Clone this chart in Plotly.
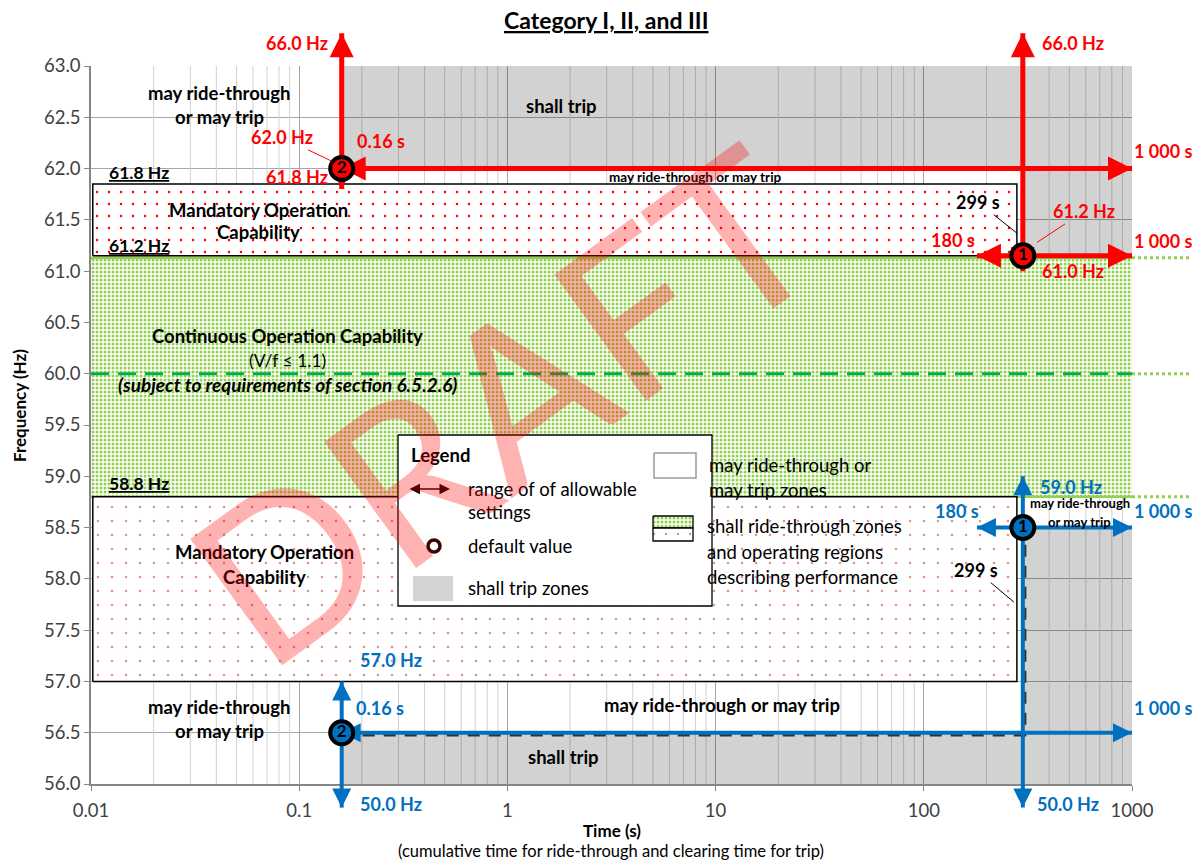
import numpy as np
import plotly.graph_objects as go

W, H = 1192, 861
L, R, T, B = 91, 1132, 66, 784   # plot area edges in px

RED = "#ff0000"
BLUE = "#0070c0"
FONT = "Lato"

# zones (time in s, frequency in Hz)
upper_trip_t = [0.16, 1000, 1000, 299, 299, 0.16]
upper_trip_f = [63.0, 63.0, 61.15, 61.15, 62.0, 62.0]
lower_trip_t = [0.16, 1000, 1000, 299, 299, 0.16]
lower_trip_f = [56.0, 56.0, 58.5, 58.5, 56.5, 56.5]
cont_op_t = [0.01, 1000, 1000, 0.01]
cont_op_f = [58.8, 58.8, 61.13, 61.13]
moc_t = [0.0102, 280, 280, 0.0102, 0.0102]
moc_upper_f = [61.15, 61.15, 61.85, 61.85, 61.15]
moc_lower_f = [57.0, 57.0, 58.8, 58.8, 57.0]
nominal_t = [0.01, 1000]
nominal_f = [60.0, 60.0]
default_curve_t = [0.16, 305, 305]
default_curve_f = [56.48, 56.48, 58.5]
green_ext_t = [1000, 1950]
green_ext_f = [61.13, 60.0, 58.8]

# ranges of allowable settings (both ends of each arrow)
red_arrow_t = [[0.16, 0.16], [0.16, 1000], [299, 299], [180, 1000]]
red_arrow_f = [[61.8, 63.32], [62.0, 62.0], [61.0, 63.32], [61.15, 61.15]]
blue_arrow_t = [[0.16, 0.16], [0.16, 1000], [299, 299], [180, 1000]]
blue_arrow_f = [[57.0, 55.77], [56.5, 56.5], [59.0, 55.77], [58.5, 58.5]]

# default values
default_t = [0.16, 299, 299, 0.16]
default_f = [62.0, 61.15, 58.5, 56.5]
default_id = ["2", "1", "1", "2"]
default_color = [RED, RED, BLUE, BLUE]

x_ticks = [0.01, 0.1, 1, 10, 100, 1000]
x_ticktext = ["0.01", "0.1", "1", "10", "100", "1000"]
minor_ticks = [m * 10.0 ** e for e in range(-2, 3) for m in range(2, 10)]

fig = go.Figure()

# minor vertical grid
grid_x, grid_y = [], []
for v in minor_ticks:
    grid_x += [v, v, None]
    grid_y += [56, 63, None]
fig.add_trace(go.Scatter(x=grid_x, y=grid_y, mode="lines", hoverinfo="skip",
                         line=dict(color="#d0d0d0", width=1)))


def zone(ts, fs, **kw):
    fig.add_trace(go.Scatter(x=ts, y=fs, mode="lines", fill="toself", hoverinfo="skip", **kw))


# shall trip zones (semi transparent so the grid shows through)
zone(upper_trip_t, upper_trip_f, fillcolor="rgba(0,0,0,0.175)", line=dict(width=0))
zone(lower_trip_t, lower_trip_f, fillcolor="rgba(0,0,0,0.175)", line=dict(width=0))

# continuous operation
zone(cont_op_t, cont_op_f, fillcolor="white", line=dict(width=0),
     fillpattern=dict(shape=".", fgcolor="#92d050", bgcolor="white", size=4, solidity=0.45))
for f in (cont_op_f[0], cont_op_f[2]):
    fig.add_trace(go.Scatter(x=nominal_t, y=[f, f], mode="lines", hoverinfo="skip",
                             line=dict(color="#92d050", width=2.5)))

# mandatory operation boxes
zone(moc_t, moc_upper_f, fillcolor="white", line=dict(color="black", width=1.5),
     fillpattern=dict(shape=".", fgcolor=RED, bgcolor="white", size=12, solidity=0.035))
zone(moc_t, moc_lower_f, fillcolor="white", line=dict(color="black", width=1.5),
     fillpattern=dict(shape=".", fgcolor="#e0908e", bgcolor="white", size=14, solidity=0.025))

fig.add_trace(go.Scatter(x=nominal_t, y=nominal_f, mode="lines", hoverinfo="skip",
                         line=dict(color="#00b050", width=3, dash="18px,9px")))
fig.add_trace(go.Scatter(x=default_curve_t, y=default_curve_f, mode="lines", hoverinfo="skip",
                         line=dict(color="#303030", width=3.5, dash="12px,9px")))

# overlay (full figure) axes for everything that crosses the plot frame
for f in green_ext_f:
    fig.add_trace(go.Scatter(x=green_ext_t, y=[f, f], xaxis="x2", yaxis="y2", mode="lines",
                             hoverinfo="skip", line=dict(color="#92d050", width=3, dash="dot")))


def arrow(ts, fs, color, width, head):
    fig.add_trace(go.Scatter(x=ts, y=fs, xaxis="x2", yaxis="y2", mode="lines", hoverinfo="skip",
                             line=dict(color=color, width=width)))
    syms = []
    for i in (0, 1):
        j = 1 - i
        if ts[0] == ts[1]:
            syms.append("arrow-up" if fs[i] > fs[j] else "arrow-down")
        else:
            syms.append("arrow-right" if ts[i] > ts[j] else "arrow-left")
    fig.add_trace(go.Scatter(x=ts, y=fs, xaxis="x2", yaxis="y2", mode="markers", hoverinfo="skip",
                             marker=dict(symbol=syms, size=head, color=color, line=dict(width=0))))


for ts, fs in zip(red_arrow_t, red_arrow_f):
    arrow(ts, fs, RED, 5, 24)
for ts, fs in zip(blue_arrow_t, blue_arrow_f):
    arrow(ts, fs, BLUE, 4, 19)

fig.add_trace(go.Scatter(
    x=default_t, y=default_f, xaxis="x2", yaxis="y2", mode="markers+text", hoverinfo="skip",
    text=["<b>%s</b>" % s for s in default_id], textposition="middle center",
    textfont=dict(family=FONT, size=17, color="black"),
    marker=dict(size=23, color=default_color, line=dict(color="black", width=4))))

# legend, drawn in pixel coordinates (x3/y3)
def px_rect(x0, x1, y0, y1, **kw):
    fig.add_trace(go.Scatter(x=[x0, x1, x1, x0, x0], y=[y0, y0, y1, y1, y0], xaxis="x3", yaxis="y3",
                             mode="lines", fill="toself", hoverinfo="skip", **kw))


px_rect(398, 712, 435, 606, fillcolor="white", line=dict(color="black", width=1.3))
px_rect(413, 453, 576, 601, fillcolor="#d3d3d3", line=dict(width=0))
px_rect(654, 696, 453, 478, fillcolor="white", line=dict(color="#9a9a9a", width=1.5))
px_rect(653, 693, 516, 528, fillcolor="white", line=dict(color="black", width=1.3),
        fillpattern=dict(shape=".", fgcolor="#92d050", bgcolor="white", size=4, solidity=0.45))
px_rect(653, 693, 528, 541, fillcolor="white", line=dict(color="black", width=1.3),
        fillpattern=dict(shape=".", fgcolor="#e0908e", bgcolor="white", size=12, solidity=0.03))
fig.add_trace(go.Scatter(x=[434], y=[546], xaxis="x3", yaxis="y3", mode="markers", hoverinfo="skip",
                         marker=dict(size=12, color="white", line=dict(color="#3a0505", width=3.5))))


def label(t, f, lines, size=18.5, color="black", gap=24, **kw):
    if isinstance(lines, str):
        lines = [lines]
    for i, s in enumerate(lines):
        fig.add_annotation(x=np.log10(t), y=f, xref="x2", yref="y2", text=s, showarrow=False,
                           yshift=-i * gap, font=dict(family=FONT, size=size, color=color), **kw)


def leader(t, f, text, ax, ay, color):
    fig.add_annotation(x=np.log10(t), y=f, xref="x2", yref="y2", text="<b>%s</b>" % text,
                       showarrow=True, arrowhead=0, arrowwidth=1, arrowcolor=color, ax=ax, ay=ay,
                       font=dict(family=FONT, size=18, color=color))


def px_text(x, y, lines, size=18.5, gap=25, bold=False, **kw):
    if isinstance(lines, str):
        lines = [lines]
    for i, s in enumerate(lines):
        fig.add_annotation(x=x, y=y, xref="x3", yref="y3", text="<b>%s</b>" % s if bold else s,
                           showarrow=False, yshift=-i * gap,
                           font=dict(family=FONT, size=size, color="black"), **kw)


# zone labels
label(0.0412, 62.734, ["<b>may ride-through</b>", "<b>or may trip</b>"])
label(1.81, 62.607, "<b>shall trip</b>")
label(0.0641, 61.594, ["<b>Mandatory Operation</b>", "<b>Capability</b>"], gap=22)
label(8.05, 61.915, "<b>may ride-through or may trip</b>", size=13.5)
label(0.0874, 60.366, "<b>Continuous Operation Capability</b>")
label(0.0874, 60.132, "(V/f ≤ 1.1)", size=17.5)
label(0.0874, 59.898, "<b><i>(subject to requirements of section 6.5.2.6)</i></b>", size=19)
label(0.0685, 58.26, ["<b>Mandatory Operation</b>", "<b>Capability</b>"], gap=25)
label(562, 58.739, ["<b>may ride-through</b>", "<b>or may trip</b>"], size=13, gap=19)
label(0.0412, 56.75, ["<b>may ride-through</b>", "<b>or may trip</b>"])
label(10.7, 56.77, "<b>may ride-through or may trip</b>")
label(1.85, 56.263, "<b>shall trip</b>")
label(0.017, 61.964, "<b><u>61.8 Hz</u></b>", size=17.5)
label(0.017, 61.25, "<b><u>61.2 Hz</u></b>", size=17.5)
label(0.017, 58.93, "<b><u>58.8 Hz</u></b>", size=17.5)

# setting labels
label(0.0976, 63.226, "<b>66.0 Hz</b>", size=18, color=RED)
label(520.6, 63.226, "<b>66.0 Hz</b>", size=18, color=RED)
label(0.247, 62.264, "<b>0.16 s</b>", size=18, color=RED)
label(0.0976, 61.915, "<b>61.8 Hz</b>", size=18, color=RED)
label(1409, 62.169, "<b>1 000 s</b>", size=18, color=RED)
label(1409, 61.291, "<b>1 000 s</b>", size=18, color=RED)
label(138, 61.301, "<b>180 s</b>", size=18, color=RED)
label(520.6, 61.0, "<b>61.0 Hz</b>", size=18, color=RED)
leader(0.1437, 62.071, "62.0 Hz", -50, -24, RED)
leader(280.3, 61.37, "299 s", -39, -31, "black")
leader(349.8, 61.28, "61.2 Hz", 47, -31, RED)

label(511, 58.894, "<b>59.0 Hz</b>", size=18, color=BLUE)
label(144, 58.66, "<b>180 s</b>", size=18, color=BLUE)
label(1409, 58.66, "<b>1 000 s</b>", size=18, color=BLUE)
label(1409, 56.74, "<b>1 000 s</b>", size=18, color=BLUE)
label(0.276, 57.207, "<b>57.0 Hz</b>", size=18, color=BLUE)
label(0.245, 56.74, "<b>0.16 s</b>", size=18, color=BLUE)
label(0.276, 55.806, "<b>50.0 Hz</b>", size=18, color=BLUE)
label(492, 55.806, "<b>50.0 Hz</b>", size=18, color=BLUE)
leader(271, 57.773, "299 s", -38, -32, "black")

# legend text
px_text(409, 455, "Legend", bold=True, xanchor="left")
fig.add_annotation(x=450, y=489, ax=408, ay=489, xref="x3", yref="y3", axref="x3", ayref="y3",
                   text="", showarrow=True, arrowside="end+start", arrowhead=2, startarrowhead=2,
                   arrowsize=1.4, startarrowsize=1.4, arrowwidth=1.5, arrowcolor="#1a0000")
px_text(466, 489, ["range of of allowable", "settings"], gap=23, xanchor="left")
px_text(466, 546, "default value", xanchor="left")
px_text(466, 588, "shall trip zones", xanchor="left")
px_text(707, 465, ["may ride-through or", "may trip zones"], xanchor="left")
px_text(705, 526, ["shall ride-through zones", "and operating regions", "describing performance"],
        gap=25.5, xanchor="left")

# titles
px_text(606, 20, "<u>Category I, II, and III</u>", size=23, bold=True)
px_text(612, 830, "Time (s)", size=17, bold=True)
px_text(611, 851, "(cumulative time for ride-through and clearing time for trip)", size=16.5)
fig.add_annotation(x=19, y=406, xref="x3", yref="y3", text="<b>Frequency (Hz)</b>", showarrow=False,
                   textangle=-90, font=dict(family=FONT, size=17, color="black"))

# watermark
fig.add_annotation(x=500, y=402, xref="x3", yref="y3", text="DRAFT", showarrow=False, textangle=-36,
                   font=dict(family=FONT, size=218, color="rgba(255,0,0,0.3)"))

dpp = 5 / (R - L)
hpp = 7 / (B - T)
axis_font = dict(family=FONT, size=18.5, color="#404040")
fig.update_layout(
    template="none", width=W, height=H, margin=dict(l=0, r=0, t=0, b=0),
    paper_bgcolor="white", plot_bgcolor="rgba(0,0,0,0)", showlegend=False,
    font=dict(family=FONT, color="black"),
    xaxis=dict(type="log", range=[-2, 3], domain=[L / W, R / W], anchor="y",
               tickvals=x_ticks, ticktext=x_ticktext, ticks="outside", ticklen=5, tickcolor="#868686",
               ticklabelstandoff=4, showline=True, linecolor="#868686", linewidth=1.5,
               showgrid=True, gridcolor="#a6a6a6", gridwidth=1, zeroline=False, automargin=False,
               tickfont=axis_font),
    yaxis=dict(range=[56, 63], domain=[1 - B / H, 1 - T / H], anchor="x", tick0=56, dtick=0.5,
               tickformat=".1f", ticks="outside", ticklen=5, tickcolor="#868686",
               showline=True, linecolor="#868686", linewidth=1.5, showgrid=True,
               gridcolor="#a6a6a6", gridwidth=1, zeroline=False, automargin=False, tickfont=axis_font),
    xaxis2=dict(type="log", domain=[0, 1], range=[-2 - L * dpp, 3 + (W - R) * dpp], anchor="y2",
                visible=False),
    yaxis2=dict(domain=[0, 1], range=[56 - (H - B) * hpp, 63 + T * hpp], anchor="x2", visible=False),
    xaxis3=dict(domain=[0, 1], range=[0, W], anchor="y3", visible=False),
    yaxis3=dict(domain=[0, 1], range=[H, 0], anchor="x3", visible=False),
)

fig.write_html("out.html", config={"displayModeBar": False},
               post_script="document.body.style.margin='0';")
